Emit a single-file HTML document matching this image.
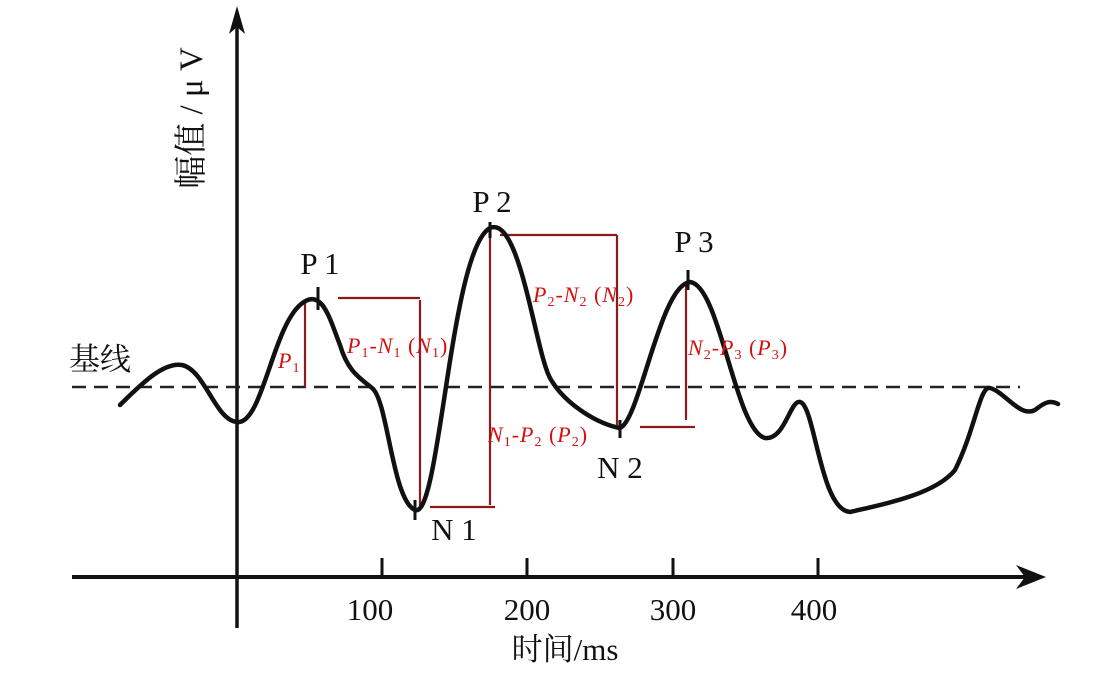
<!DOCTYPE html>
<html><head><meta charset="utf-8"><style>body{margin:0;background:#fff}svg{display:block}</style></head><body>
<svg width="1102" height="673" viewBox="0 0 1102 673" xmlns="http://www.w3.org/2000/svg">
<line x1="237" y1="20" x2="237" y2="628" stroke="#111" stroke-width="3.5"/>
<polygon points="237,6 229,34 237,27 245,34" fill="#111"/>
<line x1="72" y1="577" x2="1030" y2="577" stroke="#111" stroke-width="4"/>
<polygon points="1046,577 1016,565 1025,577 1016,589" fill="#111"/>
<g stroke="#111" stroke-width="3"><line x1="382" y1="558" x2="382" y2="577"/><line x1="527" y1="558" x2="527" y2="577"/><line x1="673" y1="558" x2="673" y2="577"/><line x1="818" y1="558" x2="818" y2="577"/></g>
<g font-family="Liberation Serif, serif" font-size="31" fill="#111" text-anchor="middle">
<text x="370" y="620">100</text><text x="527" y="620">200</text><text x="673" y="620">300</text><text x="814" y="620">400</text>
<text x="565" y="660" font-family="Liberation Serif, Noto Serif CJK SC, serif">时间/ms</text>
<text x="320" y="274">P 1</text><text x="492" y="212">P 2</text><text x="694" y="252">P 3</text>
<text x="454" y="540">N 1</text><text x="620" y="478">N 2</text>
<text x="100" y="370" font-family="Liberation Serif, Noto Serif CJK SC, serif">基线</text>
<text transform="translate(202,118) rotate(-90)" font-size="33" font-family="Liberation Serif, Noto Serif CJK SC, serif">幅值 / μ V</text>
</g>
<line x1="72" y1="387" x2="1020" y2="387" stroke="#222" stroke-width="2.5" stroke-dasharray="14,8"/>
<g stroke="#8b1a1a" stroke-width="2.2">
<line x1="305" y1="300" x2="305" y2="387"/>
<line x1="338" y1="298" x2="420" y2="298"/><line x1="420" y1="300" x2="420" y2="507"/>
<line x1="430" y1="507" x2="495" y2="507"/><line x1="490" y1="232" x2="490" y2="505"/>
<line x1="500" y1="235" x2="617" y2="235"/><line x1="617" y1="235" x2="617" y2="425"/>
<line x1="640" y1="427" x2="695" y2="427"/><line x1="686" y1="282" x2="686" y2="420"/>
</g>
<path d="M120,405 C145,380 165,362 182,365 C205,370 215,420 237,422 C262,425 272,330 300,305 C322,285 330,320 340,345 C348,372 360,378 372,388 C388,400 392,500 415,510 C440,520 450,250 490,228 C520,215 535,350 550,378 C565,405 600,425 620,428 C640,420 660,285 690,282 C720,285 735,430 765,438 C785,440 790,400 800,402 C815,405 820,510 850,512 C880,505 935,495 955,470 C975,430 980,385 990,388 C1005,392 1020,418 1035,410 C1045,402 1050,400 1058,404" fill="none" stroke="#111" stroke-width="4.5" stroke-linecap="round"/>
<g stroke="#111" stroke-width="3"><line x1="318" y1="287" x2="318" y2="310"/><line x1="490" y1="222" x2="490" y2="238"/><line x1="688" y1="270" x2="688" y2="290"/><line x1="415" y1="500" x2="415" y2="520"/><line x1="620" y1="420" x2="620" y2="438"/></g>
<g font-family="Liberation Serif, serif" font-size="22" fill="#d41010" font-style="italic" letter-spacing="1">
<text x="278" y="368">P<tspan font-size="14" dy="4" font-style="normal">1</tspan></text>
<text x="347" y="353">P<tspan font-size="14" dy="4" font-style="normal">1</tspan><tspan dy="-4">-N</tspan><tspan font-size="14" dy="4" font-style="normal">1</tspan><tspan dy="-4" font-style="normal"> (</tspan>N<tspan font-size="14" dy="4" font-style="normal">1</tspan><tspan dy="-4" font-style="normal">)</tspan></text>
<text x="533" y="302">P<tspan font-size="14" dy="4" font-style="normal">2</tspan><tspan dy="-4">-N</tspan><tspan font-size="14" dy="4" font-style="normal">2</tspan><tspan dy="-4" font-style="normal"> (</tspan>N<tspan font-size="14" dy="4" font-style="normal">2</tspan><tspan dy="-4" font-style="normal">)</tspan></text>
<text x="488" y="442">N<tspan font-size="14" dy="4" font-style="normal">1</tspan><tspan dy="-4">-P</tspan><tspan font-size="14" dy="4" font-style="normal">2</tspan><tspan dy="-4" font-style="normal"> (</tspan>P<tspan font-size="14" dy="4" font-style="normal">2</tspan><tspan dy="-4" font-style="normal">)</tspan></text>
<text x="688" y="355">N<tspan font-size="14" dy="4" font-style="normal">2</tspan><tspan dy="-4">-P</tspan><tspan font-size="14" dy="4" font-style="normal">3</tspan><tspan dy="-4" font-style="normal"> (</tspan>P<tspan font-size="14" dy="4" font-style="normal">3</tspan><tspan dy="-4" font-style="normal">)</tspan></text>
</g>
</svg>
</body></html>
